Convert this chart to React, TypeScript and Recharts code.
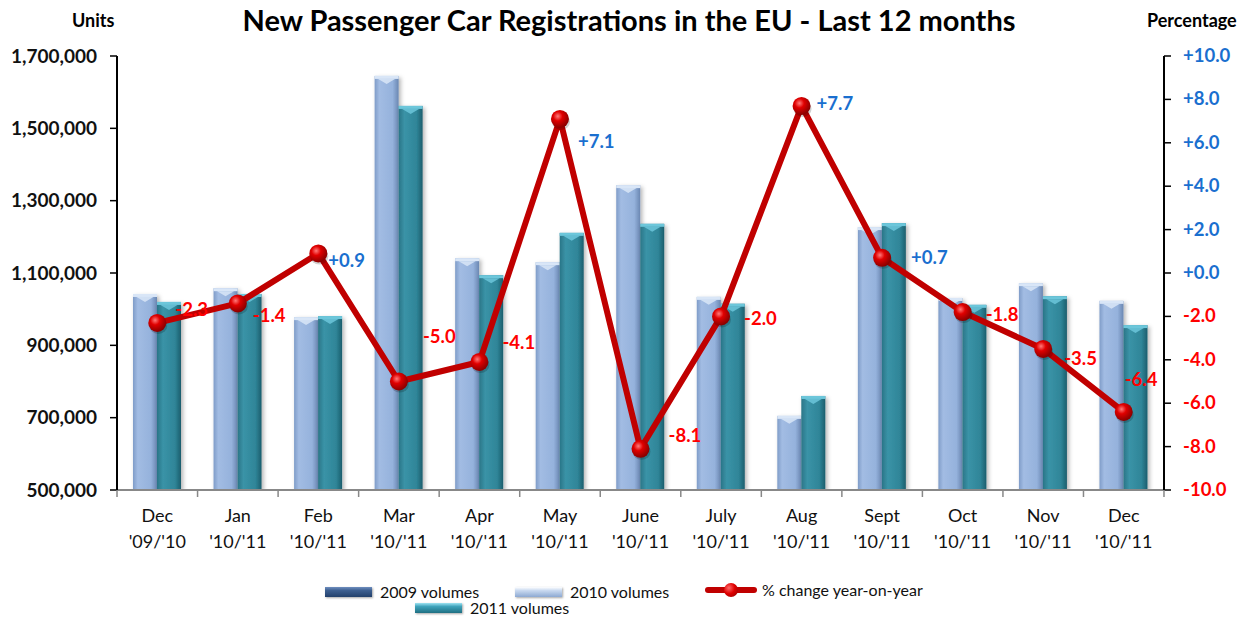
import React from 'react'
import {
  ComposedChart,
  Bar,
  Line,
  XAxis,
  YAxis,
} from 'recharts'

const months = ['Dec', 'Jan', 'Feb', 'Mar', 'Apr', 'May', 'June', 'July', 'Aug', 'Sept', 'Oct', 'Nov', 'Dec']
const periods = ["'09/'10", "'10/'11", "'10/'11", "'10/'11", "'10/'11", "'10/'11", "'10/'11", "'10/'11", "'10/'11", "'10/'11", "'10/'11", "'10/'11", "'10/'11"]
const volumesPrev = [1042000, 1058000, 978000, 1645000, 1141000, 1130000, 1343000, 1034000, 705000, 1227000, 1031000, 1072000, 1023000]
const volumesCur = [1020000, 1042000, 981000, 1562000, 1094000, 1211000, 1236000, 1015000, 760000, 1238000, 1012000, 1036000, 956000]
const pctChange = [-2.3, -1.4, 0.9, -5.0, -4.1, 7.1, -8.1, -2.0, 7.7, 0.7, -1.8, -3.5, -6.4]

const unitTicks = [500000, 700000, 900000, 1100000, 1300000, 1500000, 1700000]
const pctTicks = [-10, -8, -6, -4, -2, 0, 2, 4, 6, 8, 10]

// hand placed label offsets, like the moved labels in the original sheet
const labelNudge = [
  [18, -7], [15, 19], [10, 14], [24, -39], [23, -13], [18, 29], [28, -7],
  [23, 9], [15, 4], [29, 6], [23, 9], [21, 16], [1, -26],
]

const data = months.map((m, i) => ({
  key: `${m}-${i}`,
  prev: volumesPrev[i],
  cur: volumesCur[i],
  pct: pctChange[i],
}))

const BLUE = '#1a6fcf'
const RED = '#ff0000'
const FONT = 'Lato, "Open Sans", sans-serif'

const fmtPct = (v: number) => (v >= 0 ? `+${v.toFixed(1)}` : v.toFixed(1))

function BevelBar(props: any) {
  const { x, y, width, height, gradient, cap } = props
  if (!height || height <= 0) return null
  const tw = width * 0.35
  return (
    <g filter="url(#barShadow)">
      <rect x={x} y={y} width={width} height={height} fill={`url(#${gradient})`} />
      <rect x={x} y={y} width={width} height={3} fill={cap} />
      <polygon
        points={`${x + width / 2 - tw},${y + 3} ${x + width / 2 + tw},${y + 3} ${x + width / 2},${y + 8}`}
        fill={cap}
        opacity={0.85}
      />
    </g>
  )
}

function XTick(props: any) {
  const { x, y, payload, index } = props
  const half = 80.5 / 2
  const i = payload.index ?? index
  return (
    <g>
      <line x1={x - half} y1={y - 8} x2={x - half} y2={y - 1} stroke="#888" strokeWidth={1.5} />
      {i === months.length - 1 && (
        <line x1={x + half} y1={y - 8} x2={x + half} y2={y - 1} stroke="#888" strokeWidth={1.5} />
      )}
      <text x={x} y={y + 24} textAnchor="middle" fontFamily={FONT} fontSize={18} fill="#111">
        {months[i]}
      </text>
      <text x={x} y={y + 50} textAnchor="middle" fontFamily={FONT} fontSize={18} fill="#111">
        {periods[i]}
      </text>
    </g>
  )
}

function PctTick(props: any) {
  const { x, y, payload } = props
  const v = payload.value as number
  return (
    <text x={x} y={y} dy={6} textAnchor="start" fontFamily={FONT} fontWeight={700} fontSize={18.5} fill={v >= 0 ? BLUE : RED}>
      {fmtPct(v)}
    </text>
  )
}

function SphereDot(props: any) {
  const { cx, cy } = props
  if (cx == null || cy == null) return null
  return (
    <g>
      <ellipse cx={cx + 1} cy={cy + 3} rx={9} ry={8} fill="#000" opacity={0.18} />
      <circle cx={cx} cy={cy} r={9} fill="url(#sphere)" />
    </g>
  )
}

function PctLabel(props: any) {
  const { x, y, value, index } = props
  const [dx, dy] = labelNudge[index] || [18, 6]
  return (
    <text x={x + dx} y={y + dy} fontFamily={FONT} fontWeight={700} fontSize={18.5} fill={value >= 0 ? BLUE : RED}>
      {fmtPct(value)}
    </text>
  )
}

function Swatch({ from, to, top }: { from: string; to: string; top: string }) {
  return (
    <div
      style={{
        width: 47,
        height: 10,
        background: `linear-gradient(to bottom, ${top} 0%, ${from} 35%, ${to} 100%)`,
        boxShadow: '1px 1px 2px rgba(0,0,0,0.35)',
      }}
    />
  )
}

function LineSwatch() {
  return (
    <div style={{ position: 'relative', width: 52, height: 14 }}>
      <div style={{ position: 'absolute', left: 0, top: 4, width: 52, height: 6, background: '#c00000', borderRadius: 3 }} />
      <div
        style={{
          position: 'absolute', left: 19, top: 0, width: 14, height: 14, borderRadius: 7,
          background: 'radial-gradient(circle at 35% 35%, #ff6a6a 0%, #e00000 45%, #8a0000 100%)',
        }}
      />
    </div>
  )
}

const legendText: React.CSSProperties = {
  fontFamily: FONT, fontSize: 16, color: '#111', marginLeft: 8, whiteSpace: 'nowrap',
}

export default function App() {
  return (
    <div style={{ position: 'relative', width: 1242, height: 617, marginBottom: -8 }}>
      <div style={{
        position: 'absolute', left: 0, width: 1242, top: -6, textAlign: 'center',
        fontFamily: FONT, fontWeight: 700, fontSize: 29, color: '#000',
      }}
      >
        New Passenger Car Registrations in the EU - Last 12 months
      </div>
      <div style={{ position: 'absolute', left: 64, top: 1, fontFamily: FONT, fontWeight: 700, fontSize: 18 }}>Units</div>
      <div style={{ position: 'absolute', left: 1139, top: 1, fontFamily: FONT, fontWeight: 700, fontSize: 18 }}>Percentage</div>

      <ComposedChart
        width={1242}
        height={609}
        data={data}
        margin={{ top: 48, right: 0, bottom: 47, left: 0 }}
        barGap={0}
      >
        <defs>
          <linearGradient id="gradPrev" x1="0" y1="0" x2="1" y2="0">
            <stop offset="0%" stopColor="#7f9cc8" />
            <stop offset="20%" stopColor="#a2bce3" />
            <stop offset="75%" stopColor="#95b2dc" />
            <stop offset="100%" stopColor="#6a87b2" />
          </linearGradient>
          <linearGradient id="gradCur" x1="0" y1="0" x2="1" y2="0">
            <stop offset="0%" stopColor="#2a7587" />
            <stop offset="25%" stopColor="#3a93a7" />
            <stop offset="75%" stopColor="#2f8598" />
            <stop offset="100%" stopColor="#1c5e6d" />
          </linearGradient>
          <radialGradient id="sphere" cx="38%" cy="35%" r="65%">
            <stop offset="0%" stopColor="#ff7a7a" />
            <stop offset="40%" stopColor="#e00000" />
            <stop offset="100%" stopColor="#8a0000" />
          </radialGradient>
          <filter id="barShadow" x="-20%" y="-5%" width="150%" height="115%">
            <feDropShadow dx="2" dy="2" stdDeviation="2" floodColor="#000" floodOpacity="0.3" />
          </filter>
        </defs>
        <XAxis
          dataKey="key"
          height={80}
          axisLine={{ stroke: '#888', strokeWidth: 2 }}
          tickLine={false}
          tick={<XTick />}
          interval={0}
        />
        <YAxis
          yAxisId="units"
          orientation="left"
          width={109}
          domain={[500000, 1700000]}
          ticks={unitTicks}
          allowDataOverflow
          axisLine={{ stroke: '#000', strokeWidth: 2 }}
          tickLine={{ stroke: '#000', strokeWidth: 1.5 }}
          tickSize={7}
          tickMargin={13}
          tickFormatter={(v: number) => v.toLocaleString('en-US')}
          tick={{ fill: '#111', fontFamily: FONT, fontWeight: 700, fontSize: 19 }}
        />
        <YAxis
          yAxisId="pct"
          orientation="right"
          width={86}
          domain={[-10, 10]}
          ticks={pctTicks}
          axisLine={{ stroke: '#000', strokeWidth: 2 }}
          tickLine={{ stroke: '#000', strokeWidth: 1.5 }}
          tickSize={7}
          tickMargin={12}
          tick={<PctTick />}
        />
        <Bar
          yAxisId="units"
          dataKey="prev"
          name="2010 volumes"
          barSize={24}
          isAnimationActive={false}
          shape={(p: any) => <BevelBar {...p} gradient="gradPrev" cap="#d9e6f7" />}
        />
        <Bar
          yAxisId="units"
          dataKey="cur"
          name="2011 volumes"
          barSize={24}
          isAnimationActive={false}
          shape={(p: any) => <BevelBar {...p} gradient="gradCur" cap="#6cc6da" />}
        />
        <Line
          yAxisId="pct"
          dataKey="pct"
          name="% change year-on-year"
          stroke="#c00000"
          strokeWidth={6}
          strokeLinejoin="round"
          isAnimationActive={false}
          dot={<SphereDot />}
          activeDot={false}
          label={<PctLabel />}
        />
      </ComposedChart>

      <div style={{ position: 'absolute', left: 317, top: 574, display: 'flex', alignItems: 'center' }}>
        <Swatch top="#6f8fc0" from="#3d5f90" to="#22406b" />
        <span style={legendText}>2009 volumes</span>
      </div>
      <div style={{ position: 'absolute', left: 507, top: 574, display: 'flex', alignItems: 'center' }}>
        <Swatch top="#ffffff" from="#c9d9f0" to="#8da9d2" />
        <span style={legendText}>2010 volumes</span>
      </div>
      <div style={{ position: 'absolute', left: 697, top: 572, display: 'flex', alignItems: 'center' }}>
        <LineSwatch />
        <span style={{ ...legendText, marginLeft: 5 }}>% change year-on-year</span>
      </div>
      <div style={{ position: 'absolute', left: 407, top: 590, display: 'flex', alignItems: 'center' }}>
        <Swatch top="#9fe3f2" from="#3fa3bb" to="#1f6f82" />
        <span style={legendText}>2011 volumes</span>
      </div>
    </div>
  )
}
